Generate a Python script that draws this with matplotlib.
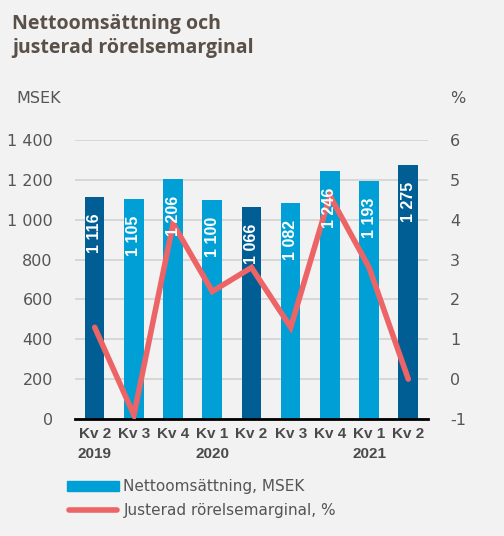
import matplotlib.pyplot as plt
import numpy as np

plt.rcParams["axes.unicode_minus"] = False

quarters = ["Kv 2\n2019", "Kv 3", "Kv 4", "Kv 1\n2020", "Kv 2", "Kv 3", "Kv 4", "Kv 1\n2021", "Kv 2"]
sales = [1116, 1105, 1206, 1100, 1066, 1082, 1246, 1193, 1275]
margin = [1.3, -0.9, 3.9, 2.2, 2.8, 1.3, 4.6, 2.8, 0.0]
highlight = [True, False, False, False, True, False, False, False, True]

bg = "#f2f2f2"
dark_blue = "#005e94"
light_blue = "#00a0d6"
red = "#ec6466"
txt = "#555555"

fig = plt.figure(figsize=(5.04, 5.36), dpi=100, facecolor=bg)
ax = fig.add_axes([0.149, 0.2183, 0.70, 0.5205], facecolor=bg)
ax2 = ax.twinx()

x = np.arange(len(sales))
colors = [dark_blue if h else light_blue for h in highlight]
ax.bar(x, sales, width=0.5, color=colors, zorder=2)

ax.set_ylim(0, 1400)
ax.set_xlim(-0.5, len(sales) - 0.5)
ax.set_yticks(range(0, 1401, 200))
ax.set_yticklabels([f"{v:,}".replace(",", " ") for v in range(0, 1401, 200)])
ax.yaxis.grid(True, color="#d2d2d2", lw=1.2, zorder=0)
ax.set_axisbelow(True)
ax.set_xticks(x)
ax.set_xticklabels(quarters, fontweight="bold", family="Liberation Sans",
                   fontsize=11, color="#4a4a4a", linespacing=1.55)
ax.tick_params(axis="x", length=0, pad=6)
ax.tick_params(axis="y", length=0, pad=16, labelsize=11.5, labelcolor=txt)
for s in ["top", "right", "left"]:
    ax.spines[s].set_visible(False)
ax.spines["bottom"].set_color("black")
ax.spines["bottom"].set_linewidth(2)
ax.spines["bottom"].set_zorder(5)

ax2.plot(x, margin, color=red, lw=4, solid_capstyle="round", solid_joinstyle="miter", zorder=4)
ax2.set_ylim(-1, 6)
ax2.set_yticks(range(-1, 7))
ax2.tick_params(axis="y", length=0, pad=16, labelsize=11.5, labelcolor=txt)
for s in ["top", "right", "left", "bottom"]:
    ax2.spines[s].set_visible(False)

# value labels drawn on the upper axes so they sit over the line
for xi, v in zip(x, sales):
    lab = f"{v:,}".replace(",", " ")
    ax2.annotate(lab, (xi, v), xycoords=ax.transData, xytext=(0, -12),
                 textcoords="offset points", rotation=90, ha="center", va="top",
                 color="white", fontsize=11.5, fontweight="bold",
                 family="Liberation Sans", zorder=6)

fig.text(0.024, 0.974, "Nettoomsättning och\njusterad rörelsemarginal", fontsize=14,
         fontweight="bold", family="Open Sans", color="#5a5047", va="top", linespacing=1.25)
fig.text(0.032, 0.817, "MSEK", fontsize=11.5, color=txt, va="center")
fig.text(0.893, 0.817, "%", fontsize=11.5, color=txt, va="center")

# legend
fig.patches.append(plt.Rectangle((0.133, 0.0845), 0.103, 0.0185, transform=fig.transFigure,
                                 color=light_blue, figure=fig))
fig.add_artist(plt.Line2D([0.137, 0.232], [0.048, 0.048], color=red, lw=4,
                          solid_capstyle="round"))
fig.text(0.245, 0.093, "Nettoomsättning, MSEK", fontsize=11, color=txt, va="center")
fig.text(0.245, 0.048, "Justerad rörelsemarginal, %", fontsize=11, color=txt, va="center")

fig.savefig("out.png", dpi=100, facecolor=bg)
